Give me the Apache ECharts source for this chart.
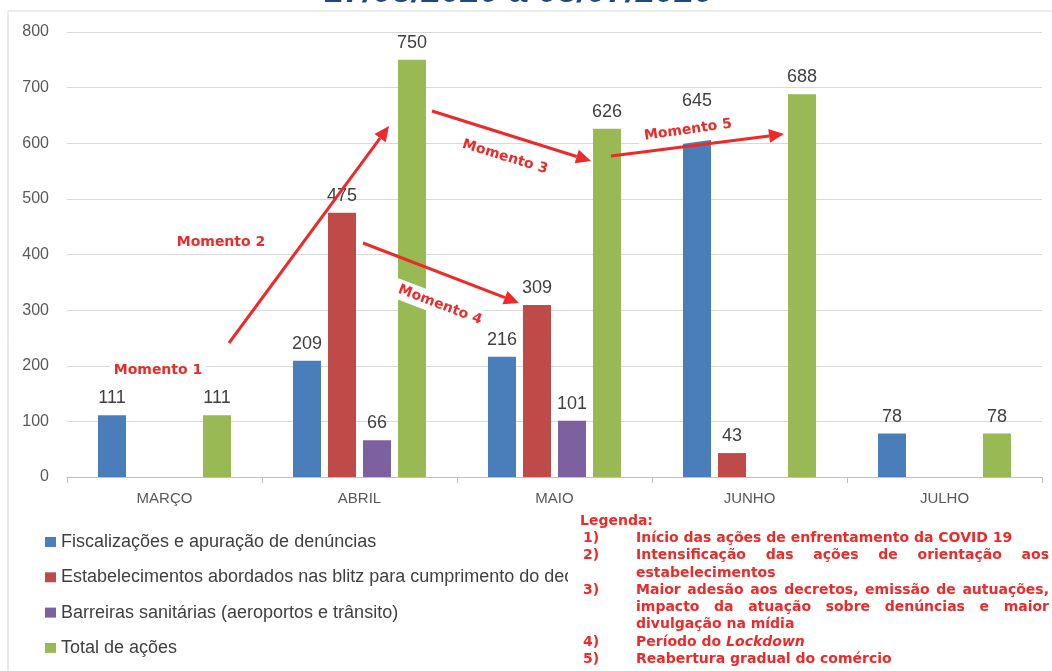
<!DOCTYPE html>
<html>
<head>
<meta charset="utf-8">
<script src="https://cdn.jsdelivr.net/npm/echarts@6/dist/echarts.min.js"></script>
<style>
  html, body { margin: 0; padding: 0; background: #fff; }
  #chart { width: 1052px; height: 671px; }
</style>
</head>
<body>
<div id="chart"></div>
<script>
/* Ações de fiscalização COVID-19 — barras por mês com anotações "Momento" */

const months = ["MARÇO", "ABRIL", "MAIO", "JUNHO", "JULHO"];
const fiscalizacoes = [111, 209, 216, 645, 78];
const estabelecimentos = [null, 475, 309, 43, null];
const barreiras = [null, 66, 101, null, null];
const totalAcoes = [111, 750, 626, 688, 78];

const seriesNames = [
  "Fiscalizações e apuração de denúncias",
  "Estabelecimentos abordados nas blitz para cumprimento do decreto",
  "Barreiras sanitárias (aeroportos e trânsito)",
  "Total de ações",
];
const titleText = "17/03/2020 a 03/07/2020";

const legendaRows = [
  ["1)", ["Início das ações de enfrentamento da COVID 19"]],
  ["2)", ["Intensificação das ações de orientação aos", "estabelecimentos"]],
  ["3)", ["Maior adesão aos decretos, emissão de autuações,",
          "impacto da atuação sobre denúncias e maior",
          "divulgação na mídia"]],
  ["4)", ["Período do {i|Lockdown}"]],
  ["5)", ["Reabertura gradual do comércio"]],
];

(function () {
  "use strict";

  const C = {
    blue: "#4A7EBB", red: "#BE4B48", purple: "#7D60A0", green: "#98B954",
    ink: "#404040", ink2: "#595959", grid: "#D9D9D9", axis: "#BFBFBF",
    alert: "#EC2A2A", navy: "#1F497D",
  };
  const UI = "'Liberation Sans', Arial, sans-serif";
  const NOTE = "'DejaVu Sans', Verdana, sans-serif";
  const NOTE_SIZE = 14;
  const NOTE_FONT = "bold " + NOTE_SIZE + "px " + NOTE;

  const ctx = document.createElement("canvas").getContext("2d");
  const measure = (t, font) => { ctx.font = font; return ctx.measureText(t).width; };

  /* ── annotations: arrows + "Momento" labels ───────────────────────────── */
  function arrow(x1, y1, x2, y2) {
    const a = Math.atan2(y2 - y1, x2 - x1), L = 15, W = 7;
    const bx = x2 - L * Math.cos(a), by = y2 - L * Math.sin(a);
    return [
      { type: "line", z: 52, shape: { x1, y1, x2: bx, y2: by },
        style: { stroke: C.alert, lineWidth: 3 } },
      { type: "polygon", z: 52,
        shape: { points: [[x2, y2], [bx + W * Math.sin(a), by - W * Math.cos(a)], [bx - W * Math.sin(a), by + W * Math.cos(a)]] },
        style: { fill: C.alert } },
    ];
  }

  // deg: counter-clockwise positive; pad: white box behind the text (null = none)
  function momento(text, x, y, deg, pad) {
    return {
      type: "text", z: 51, x, y, rotation: deg * Math.PI / 180,
      style: {
        text, fill: C.alert, font: "bold 14px " + NOTE, align: "center", verticalAlign: "middle",
        backgroundColor: pad ? "#fff" : null, padding: pad || 0,
      },
    };
  }

  const notes = [
    ...arrow(229, 343, 389, 126),
    ...arrow(432, 111, 591, 161),
    ...arrow(363, 243, 519, 303),
    ...arrow(611, 156, 784, 134),
    momento("Momento 1", 158, 370, 0, [3, 4]),
    momento("Momento 2", 221, 242, 0, null),
    momento("Momento 3", 505, 157, -17, null),
    momento("Momento 4", 440, 305, -21, [3, 4]),
    momento("Momento 5", 688, 130, 8, [6, 6]),
  ];

  /* ── red "Legenda" block, justified like the source document ──────────── */
  const LX = 580, NX = 583, TX = 636, RX = 1049, LY0 = 521, LH = 17.3;
  const legenda = [
    { type: "rect", z: 60, shape: { x: 568, y: 512, width: 500, height: 170 }, style: { fill: "#fff" } },
    { type: "text", z: 61, x: LX, y: LY0,
      style: { text: "Legenda:", fill: C.alert, font: NOTE_FONT, verticalAlign: "middle" } },
  ];
  let row = 1;
  legendaRows.forEach(([num, lines]) => {
    legenda.push({ type: "text", z: 61, x: NX, y: LY0 + row * LH,
      style: { text: num, fill: C.alert, font: NOTE_FONT, verticalAlign: "middle" } });
    lines.forEach((line, i) => {
      const y = LY0 + row * LH;
      const justify = i < lines.length - 1;
      if (justify) {
        const words = line.split(" ");
        const total = words.reduce((s, w) => s + measure(w, NOTE_FONT), 0);
        const gap = (RX - TX - total) / (words.length - 1);
        let x = TX;
        words.forEach((w) => {
          legenda.push({ type: "text", z: 61, x, y,
            style: { text: w, fill: C.alert, font: NOTE_FONT, verticalAlign: "middle" } });
          x += measure(w, NOTE_FONT) + gap;
        });
      } else {
        legenda.push({ type: "text", z: 61, x: TX, y,
          style: { text: line, fill: C.alert, font: NOTE_FONT, verticalAlign: "middle",
            rich: { i: { fontStyle: "italic", fontWeight: "bold", fontSize: NOTE_SIZE, fontFamily: NOTE, fill: C.alert } } } });
      }
      row++;
    });
  });

  const frame = [
    { type: "rect", z: 1, shape: { x: 8, y: 11, width: 1100, height: 700 },
      style: { fill: null, stroke: C.grid, lineWidth: 1 } },
    { type: "text", z: 1, x: 519, y: 10,
      style: { text: titleText, fill: C.navy, font: "italic bold 35px " + UI, align: "center", verticalAlign: "bottom" } },
  ];

  const LABEL = { show: true, position: "top", distance: 8, color: C.ink, fontFamily: UI, fontSize: 18 };
  const bar = (name, data, color) => ({
    name, type: "bar", data, barWidth: 28, barGap: "25%",
    itemStyle: { color }, label: LABEL,
  });

  const chart = echarts.init(document.getElementById("chart"), null, { renderer: "canvas" });
  chart.setOption({
    animation: false,
    grid: { left: 67, right: 10, top: 32, bottom: 194 },
    legend: {
      orient: "vertical", left: 40, top: 528, itemWidth: 11, itemHeight: 10, itemGap: 17.3,
      icon: "rect", selectedMode: false,
      textStyle: { color: C.ink, fontFamily: UI, fontSize: 18, lineHeight: 18 },
    },
    xAxis: {
      type: "category", data: months,
      axisLine: { lineStyle: { color: C.axis, width: 1 } },
      axisTick: { show: true, length: 6, lineStyle: { color: C.axis } },
      axisLabel: { color: C.ink2, fontFamily: UI, fontSize: 15, margin: 14 },
    },
    yAxis: {
      type: "value", min: 0, max: 800, interval: 100,
      axisLine: { show: false }, axisTick: { show: false },
      axisLabel: { color: C.ink2, fontFamily: UI, fontSize: 16, margin: 18 },
      splitLine: { lineStyle: { color: C.grid, width: 1.2 } },
    },
    series: [
      bar(seriesNames[0], fiscalizacoes, C.blue),
      bar(seriesNames[1], estabelecimentos, C.red),
      bar(seriesNames[2], barreiras, C.purple),
      bar(seriesNames[3], totalAcoes, C.green),
    ],
    graphic: [...frame, ...notes, ...legenda],
  });
})();
</script>
</body>
</html>
